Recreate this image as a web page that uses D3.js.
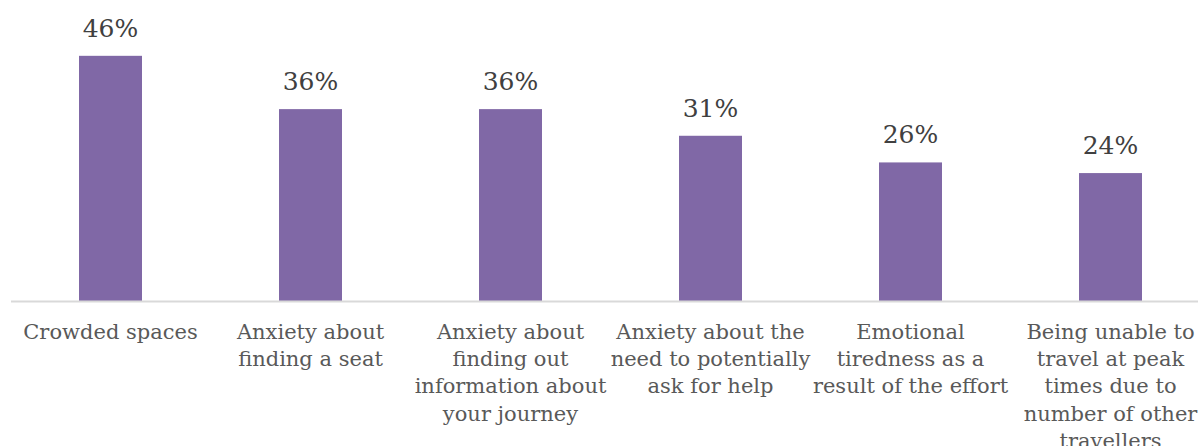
<!DOCTYPE html>
<html>
<head>
<meta charset="utf-8">
<script src="https://cdn.jsdelivr.net/npm/d3@7"></script>
<style>
  html, body { margin: 0; padding: 0; background: #fff; }
  svg { display: block; font-family: "DejaVu Serif", "Liberation Serif", serif; }
</style>
</head>
<body>
<div id="chart"></div>
<script>
// Chart data
const categories = [
    'Crowded spaces',
    'Anxiety about finding a seat',
    'Anxiety about finding out information about your journey',
    'Anxiety about the need to potentially ask for help',
    'Emotional tiredness as a result of the effort',
    'Being unable to travel at peak times due to number of other travellers'
];
const values = [46, 36, 36, 31, 26, 24];
// Tick labels as wrapped in the original
const tickLines = [
    ['Crowded spaces'],
    ['Anxiety about', 'finding a seat'],
    ['Anxiety about', 'finding out', 'information about', 'your journey'],
    ['Anxiety about the', 'need to potentially', 'ask for help'],
    ['Emotional', 'tiredness as a', 'result of the effort'],
    ['Being unable to', 'travel at peak', 'times due to', 'number of other', 'travellers']
];

const width = 1198, height = 446;
const baseY = 301;

const svg = d3.select('#chart')
    .append('svg')
    .attr('width', width)
    .attr('height', height);

// Scales
const x = d3.scaleBand()
    .domain(categories)
    .range([10.5, 1210.5])
    .paddingInner(0.685)
    .paddingOuter(0.3425);

const y = d3.scaleLinear()
    .domain([0, 50])
    .range([baseY, 34.5]);

// Bars
svg.selectAll('.bar')
    .data(values)
    .enter()
    .append('rect')
    .attr('class', 'bar')
    .attr('x', (d, i) => x(categories[i]))
    .attr('y', d => y(d))
    .attr('width', x.bandwidth())
    .attr('height', d => y(0) - y(d))
    .attr('fill', '#8068a6');

// Value labels
svg.selectAll('.value-label')
    .data(values)
    .enter()
    .append('text')
    .attr('class', 'value-label')
    .attr('x', (d, i) => x(categories[i]) + x.bandwidth() / 2)
    .attr('y', d => y(d) - 19)
    .attr('text-anchor', 'middle')
    .style('font-size', '25px')
    .style('fill', '#404040')
    .text(d => d + '%');

// X axis
const xAxis = svg.append('g')
    .attr('class', 'axis x-axis')
    .attr('transform', `translate(0, ${baseY})`)
    .call(d3.axisBottom(x).tickSize(0).tickSizeOuter(0).tickPadding(0));

xAxis.select('.domain')
    .attr('stroke', '#d9d9d9')
    .attr('stroke-width', 2);

xAxis.selectAll('.tick text')
    .attr('y', 0)
    .attr('dy', null)
    .style('font-family', '"DejaVu Serif", serif')
    .style('font-size', '21px')
    .style('fill', '#595959')
    .each(function(d, i) {
        const t = d3.select(this);
        t.text(null);
        tickLines[i].forEach((line, j) => {
            t.append('tspan')
                .attr('x', 0)
                .attr('y', 38 + j * 27.2)
                .text(line);
        });
    });
</script>
</body>
</html>
